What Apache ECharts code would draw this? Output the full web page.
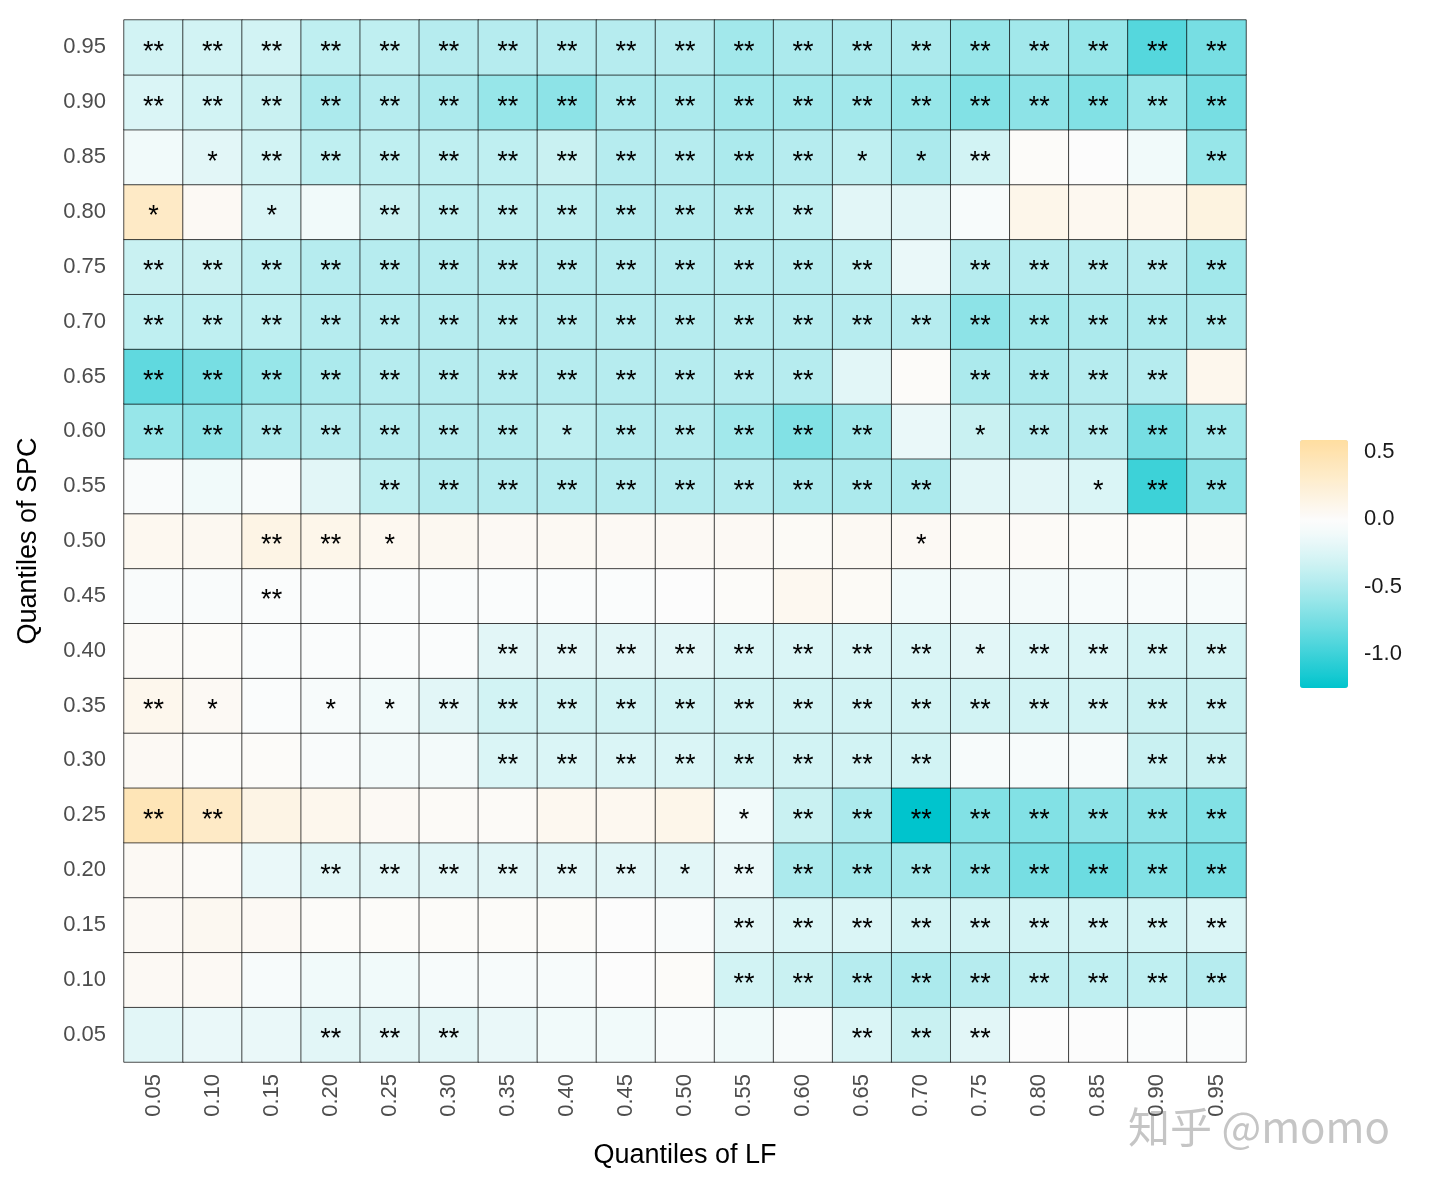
<!DOCTYPE html>
<html>
<head>
<meta charset="utf-8" />
<title>Quantile heatmap</title>
<script src="https://cdn.jsdelivr.net/npm/echarts@6/dist/echarts.min.js"></script>
<style>html,body{margin:0;padding:0;background:#fff}#main{width:1440px;height:1186px}</style>
</head>
<body>
<div id="main"></div>
<script>
var quantiles = ['0.05','0.10','0.15','0.20','0.25','0.30','0.35','0.40','0.45','0.50','0.55','0.60','0.65','0.70','0.75','0.80','0.85','0.90','0.95'];

// rows keyed by SPC quantile, values ordered by LF quantile 0.05..0.95
var values = {
  '0.95': [-0.3,-0.3,-0.3,-0.4,-0.4,-0.45,-0.45,-0.45,-0.45,-0.45,-0.55,-0.5,-0.5,-0.5,-0.6,-0.55,-0.6,-0.9,-0.75],
  '0.90': [-0.25,-0.3,-0.35,-0.5,-0.45,-0.5,-0.6,-0.65,-0.5,-0.5,-0.55,-0.55,-0.55,-0.6,-0.7,-0.65,-0.7,-0.6,-0.75],
  '0.85': [-0.1,-0.2,-0.3,-0.4,-0.4,-0.4,-0.4,-0.35,-0.45,-0.45,-0.5,-0.45,-0.4,-0.5,-0.3,0.02,0.0,-0.1,-0.6],
  '0.80': [0.35,0.05,-0.25,-0.1,-0.35,-0.4,-0.4,-0.4,-0.45,-0.45,-0.45,-0.4,-0.2,-0.2,-0.05,0.12,0.08,0.1,0.18],
  '0.75': [-0.35,-0.35,-0.4,-0.45,-0.45,-0.45,-0.45,-0.45,-0.45,-0.45,-0.45,-0.45,-0.4,-0.15,-0.45,-0.45,-0.45,-0.45,-0.55],
  '0.70': [-0.4,-0.4,-0.4,-0.45,-0.45,-0.45,-0.45,-0.45,-0.45,-0.45,-0.45,-0.45,-0.45,-0.45,-0.65,-0.55,-0.5,-0.5,-0.5],
  '0.65': [-0.85,-0.75,-0.6,-0.5,-0.45,-0.45,-0.45,-0.45,-0.45,-0.45,-0.45,-0.45,-0.2,0.02,-0.5,-0.5,-0.45,-0.45,0.1],
  '0.60': [-0.6,-0.65,-0.5,-0.45,-0.45,-0.45,-0.45,-0.4,-0.45,-0.45,-0.55,-0.7,-0.55,-0.15,-0.35,-0.45,-0.45,-0.75,-0.55],
  '0.55': [-0.03,-0.1,-0.05,-0.2,-0.4,-0.45,-0.45,-0.45,-0.45,-0.45,-0.45,-0.5,-0.5,-0.5,-0.2,-0.2,-0.25,-1.0,-0.65],
  '0.50': [0.08,0.07,0.15,0.12,0.08,0.07,0.05,0.06,0.05,0.05,0.05,0.04,0.06,0.05,0.04,0.03,0.02,0.02,0.03],
  '0.45': [-0.03,-0.03,-0.02,-0.02,-0.02,-0.02,-0.02,-0.02,-0.02,0.0,0.02,0.08,0.04,-0.1,-0.08,-0.08,-0.06,-0.05,-0.06],
  '0.40': [0.03,0.02,-0.02,-0.02,-0.02,-0.02,-0.2,-0.2,-0.2,-0.2,-0.25,-0.25,-0.25,-0.25,-0.2,-0.25,-0.25,-0.3,-0.3],
  '0.35': [0.1,0.05,-0.02,-0.05,-0.1,-0.2,-0.3,-0.3,-0.3,-0.3,-0.3,-0.3,-0.3,-0.3,-0.3,-0.3,-0.3,-0.35,-0.35],
  '0.30': [0.05,0.02,0.02,-0.03,-0.08,-0.08,-0.25,-0.25,-0.25,-0.25,-0.3,-0.3,-0.3,-0.3,-0.05,-0.05,-0.05,-0.35,-0.35],
  '0.25': [0.45,0.35,0.15,0.1,0.05,0.03,0.03,0.08,0.08,0.12,-0.1,-0.35,-0.5,-1.25,-0.7,-0.7,-0.65,-0.65,-0.7],
  '0.20': [0.05,0.03,-0.15,-0.2,-0.2,-0.2,-0.2,-0.2,-0.2,-0.2,-0.15,-0.5,-0.55,-0.55,-0.65,-0.75,-0.8,-0.7,-0.75],
  '0.15': [0.05,0.07,0.05,0.02,0.02,0.02,0.02,0.02,0.0,-0.03,-0.2,-0.25,-0.25,-0.3,-0.3,-0.3,-0.3,-0.3,-0.25],
  '0.10': [0.05,0.05,-0.05,-0.1,-0.1,-0.05,-0.05,-0.05,0.0,0.02,-0.3,-0.35,-0.45,-0.5,-0.45,-0.4,-0.4,-0.4,-0.45],
  '0.05': [-0.2,-0.15,-0.15,-0.2,-0.2,-0.2,-0.15,-0.1,-0.1,-0.05,-0.1,-0.05,-0.25,-0.35,-0.2,0.0,0.0,-0.02,-0.02]
};

var S = '**', s = '*', n = '';
var stars = {
  '0.95': [S,S,S,S,S,S,S,S,S,S,S,S,S,S,S,S,S,S,S],
  '0.90': [S,S,S,S,S,S,S,S,S,S,S,S,S,S,S,S,S,S,S],
  '0.85': [n,s,S,S,S,S,S,S,S,S,S,S,s,s,S,n,n,n,S],
  '0.80': [s,n,s,n,S,S,S,S,S,S,S,S,n,n,n,n,n,n,n],
  '0.75': [S,S,S,S,S,S,S,S,S,S,S,S,S,n,S,S,S,S,S],
  '0.70': [S,S,S,S,S,S,S,S,S,S,S,S,S,S,S,S,S,S,S],
  '0.65': [S,S,S,S,S,S,S,S,S,S,S,S,n,n,S,S,S,S,n],
  '0.60': [S,S,S,S,S,S,S,s,S,S,S,S,S,n,s,S,S,S,S],
  '0.55': [n,n,n,n,S,S,S,S,S,S,S,S,S,S,n,n,s,S,S],
  '0.50': [n,n,S,S,s,n,n,n,n,n,n,n,n,s,n,n,n,n,n],
  '0.45': [n,n,S,n,n,n,n,n,n,n,n,n,n,n,n,n,n,n,n],
  '0.40': [n,n,n,n,n,n,S,S,S,S,S,S,S,S,s,S,S,S,S],
  '0.35': [S,s,n,s,s,S,S,S,S,S,S,S,S,S,S,S,S,S,S],
  '0.30': [n,n,n,n,n,n,S,S,S,S,S,S,S,S,n,n,n,S,S],
  '0.25': [S,S,n,n,n,n,n,n,n,n,s,S,S,S,S,S,S,S,S],
  '0.20': [n,n,n,S,S,S,S,S,S,s,S,S,S,S,S,S,S,S,S],
  '0.15': [n,n,n,n,n,n,n,n,n,n,S,S,S,S,S,S,S,S,S],
  '0.10': [n,n,n,n,n,n,n,n,n,n,S,S,S,S,S,S,S,S,S],
  '0.05': [n,n,n,S,S,S,n,n,n,n,n,n,S,S,S,n,n,n,n]
};

var legendTicks = [0.5, 0.0, -0.5, -1.0];
var vMin = -1.25, vMax = 0.6;

// colour ramp teal -> white (at 0) -> light orange, sampled evenly for visualMap
function mix(a, b, t) {
  return 'rgb(' + [0,1,2].map(function (i) { return Math.round(a[i] + (b[i] - a[i]) * t); }).join(',') + ')';
}
var low = [0, 196, 205], mid = [252, 252, 252], high = [255, 222, 160];
var ramp = [];
for (var v = vMin; v <= vMax + 1e-9; v += 0.05) {
  ramp.push(v < 0 ? mix(mid, low, Math.pow(Math.min(1, -v / 1.25), 1.25)) : mix(mid, high, Math.min(1, v / 0.6)));
}

var data = [];
quantiles.forEach(function (yq, yi) {
  values[yq].forEach(function (val, xi) {
    data.push([xi, yi, val, stars[yq][xi]]);
  });
});

var chart = echarts.init(document.getElementById('main'));
var barTop = 440, barH = 248;
var graphics = legendTicks.map(function (t) {
  return {
    type: 'text', left: 1364,
    top: barTop + (vMax - t) / (vMax - vMin) * barH - 12,
    style: { text: t.toFixed(1), font: '22px "Liberation Sans", Arial', fill: '#1a1a1a' }
  };
});
graphics.push({
  type: 'text', left: 1128, top: 1106,
  style: { text: '知乎 @momo', font: '42px "Noto Sans CJK SC"', fill: 'rgba(150,150,150,0.55)' }
});

chart.setOption({
  animation: false,
  grid: { left: 124, right: 194, top: 20, bottom: 124 },
  xAxis: {
    type: 'category', data: quantiles,
    name: 'Quantiles of LF', nameLocation: 'middle', nameGap: 80,
    nameTextStyle: { fontSize: 27, color: '#000', fontFamily: 'Liberation Sans' },
    axisLine: { show: false }, axisTick: { show: false },
    axisLabel: { rotate: 90, fontSize: 22, color: '#4d4d4d', margin: 12, fontFamily: 'Liberation Sans' },
    splitLine: { show: false }
  },
  yAxis: {
    type: 'category', data: quantiles,
    name: 'Quantiles of SPC', nameLocation: 'middle', nameGap: 82,
    nameTextStyle: { fontSize: 27, color: '#000', fontFamily: 'Liberation Sans' },
    axisLine: { show: false }, axisTick: { show: false },
    axisLabel: { fontSize: 22, color: '#4d4d4d', margin: 18, fontFamily: 'Liberation Sans' },
    splitLine: { show: false }
  },
  visualMap: {
    type: 'continuous', min: vMin, max: vMax, dimension: 2,
    calculable: false, showLabel: false, text: ['', ''],
    left: 1285, top: barTop - 15, itemWidth: 48, itemHeight: barH,
    inRange: { color: ramp }
  },
  graphic: graphics,
  series: [{
    type: 'heatmap',
    data: data,
    itemStyle: { borderColor: '#000', borderWidth: 0.7 },
    label: {
      show: true, color: '#000', fontSize: 27, fontFamily: 'Liberation Sans', offset: [0, 5],
      formatter: function (p) { return p.data[3]; }
    }
  }]
});
</script>
</body>
</html>
